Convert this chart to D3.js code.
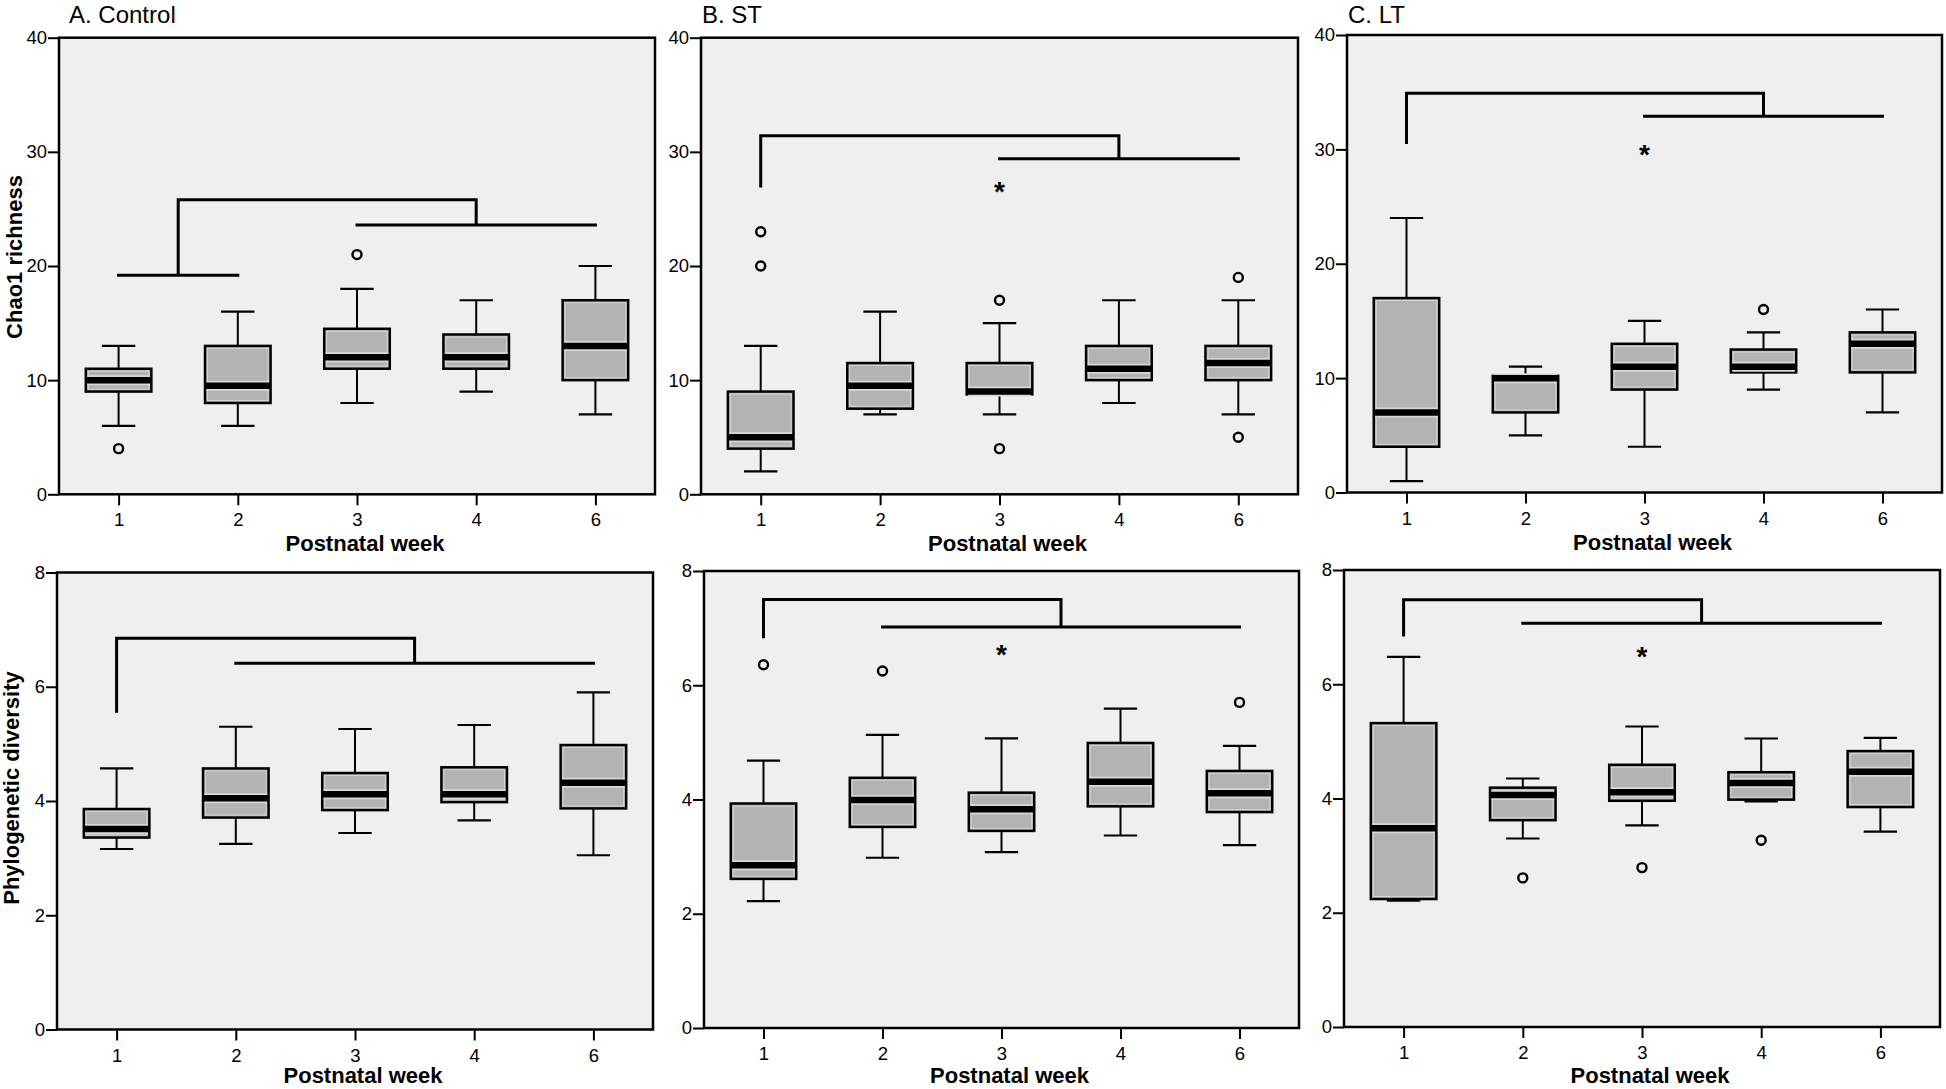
<!DOCTYPE html>
<html><head><meta charset="utf-8">
<script src="https://cdn.jsdelivr.net/npm/d3@7"></script>
<style>
body{margin:0;background:#fff}
svg{display:block}
text{font-family:"Liberation Sans", Arial, sans-serif;fill:#000}
</style>
</head><body>
<svg id="chart" width="1946" height="1089"></svg>
<script>
// ---------- data ----------
const weeks = ["1","2","3","4","6"];
const panelTitles = ["A. Control","B. ST","C. LT"];
const chaoTicks = [0,10,20,30,40];
const pdTicks = [0,2,4,6,8];
const chaoLabel = "Chao1 richness";
const pdLabel = "Phylogenetic diversity";
const xLabel = "Postnatal week";

// each box: [lower whisker, Q1, median, Q3, upper whisker]
const chaoControl = [[6,9,10,11,13],[6,8,9.5,13,16],[8,11,12,14.5,18],[9,11,12,14,17],[7,10,13,17,20]];
const chaoST      = [[2,4,5,9,13],[7,7.5,9.5,11.5,16],[7,8.75,9,11.5,15],[8,10,11,13,17],[7,10,11.5,13,17]];
const chaoLT      = [[1,4,7,17,24],[5,7,10,10.2,11],[4,9,11,13,15],[9,10.5,11,12.5,14],[7,10.5,13,14,16]];
const pdControl   = [[3.16,3.36,3.51,3.86,4.57],[3.25,3.71,4.05,4.57,5.30],[3.44,3.84,4.12,4.49,5.26],[3.66,3.98,4.12,4.59,5.33],[3.05,3.87,4.32,4.98,5.90]];
const pdST        = [[2.22,2.61,2.85,3.93,4.68],[2.98,3.52,3.99,4.38,5.13],[3.08,3.45,3.83,4.12,5.07],[3.37,3.88,4.31,4.99,5.59],[3.20,3.78,4.11,4.50,4.94]];
const pdLT        = [[2.21,2.24,3.48,5.32,6.48],[3.30,3.62,4.06,4.19,4.35],[3.53,3.96,4.11,4.59,5.26],[3.95,3.98,4.27,4.46,5.05],[3.42,3.85,4.47,4.83,5.06]];

// outliers (circle): [week index, value]
const chaoControlOutliers = [[0,4],[2,21]];
const chaoSTOutliers      = [[0,23],[0,20],[2,17],[2,4],[4,19],[4,5]];
const chaoLTOutliers      = [[3,16]];
const pdControlOutliers   = [];
const pdSTOutliers        = [[0,6.36],[1,6.25],[4,5.70]];
const pdLTOutliers        = [[1,2.61],[2,2.79],[3,3.27]];

// extremes (asterisk): [week index, value]
const chaoControlExtremes = [];
const chaoSTExtremes      = [[2,27]];
const chaoLTExtremes      = [[2,30]];
const pdControlExtremes   = [];
const pdSTExtremes        = [[2,6.64]];
const pdLTExtremes        = [[2,6.58]];

// significance brackets: left group (week index range) at leftY, right group at rightY, joined at topY
const chaoControlBracket = {left:[0,1], leftY:19.2, right:[2,4], rightY:23.6, topY:25.8};
const chaoSTBracket      = {left:[0,0], leftY:27.0, right:[2,4], rightY:29.4, topY:31.4};
const chaoLTBracket      = {left:[0,0], leftY:30.6, right:[2,4], rightY:32.9, topY:34.9};
const pdControlBracket   = {left:[0,0], leftY:5.57, right:[1,4], rightY:6.41, topY:6.85};
const pdSTBracket        = {left:[0,0], leftY:6.85, right:[1,4], rightY:7.02, topY:7.50};
const pdLTBracket        = {left:[0,0], leftY:6.86, right:[1,4], rightY:7.07, topY:7.48};

// ---------- layout ----------
const frames = [
  {x0:59, x1:655, y0:37.7, y1:494.3, titleX:69, xlabOff:57},
  {x0:701, x1:1298, y0:37.7, y1:494.3, titleX:702, xlabOff:57},
  {x0:1347, x1:1942, y0:35, y1:492.5, titleX:1348, xlabOff:57},
  {x0:57, x1:653, y0:572.5, y1:1029.5, xlabOff:53.5},
  {x0:704, x1:1299, y0:571, y1:1028, xlabOff:55},
  {x0:1344, x1:1940, y0:570, y1:1027, xlabOff:55.5}
];

const panels = [
  {boxes:chaoControl, out:chaoControlOutliers, ext:chaoControlExtremes, br:chaoControlBracket, ticks:chaoTicks, ylab:chaoLabel, ylabX:22, ylabY:257, title:panelTitles[0]},
  {boxes:chaoST, out:chaoSTOutliers, ext:chaoSTExtremes, br:chaoSTBracket, ticks:chaoTicks, title:panelTitles[1]},
  {boxes:chaoLT, out:chaoLTOutliers, ext:chaoLTExtremes, br:chaoLTBracket, ticks:chaoTicks, title:panelTitles[2]},
  {boxes:pdControl, out:pdControlOutliers, ext:pdControlExtremes, br:pdControlBracket, ticks:pdTicks, ylab:pdLabel, ylabX:19, ylabY:788},
  {boxes:pdST, out:pdSTOutliers, ext:pdSTExtremes, br:pdSTBracket, ticks:pdTicks},
  {boxes:pdLT, out:pdLTOutliers, ext:pdLTExtremes, br:pdLTBracket, ticks:pdTicks}
];

const svg = d3.select("#chart");

panels.forEach((p, i) => {
  const f = frames[i];
  const x = d3.scalePoint().domain(weeks).range([f.x0, f.x1]).padding(0.5);
  const y = d3.scaleLinear().domain(d3.extent(p.ticks)).range([f.y1, f.y0]);
  const step = x.step();
  const boxW = step * 0.55;
  const capW = step * 0.28;
  const g = svg.append("g");

  // background
  g.append("rect").attr("x", f.x0).attr("y", f.y0)
    .attr("width", f.x1 - f.x0).attr("height", f.y1 - f.y0)
    .attr("fill", "#efefef");

  // boxes
  p.boxes.forEach((b, k) => {
    const cx = x(weeks[k]);
    const [lo, q1, med, q3, hi] = b;
    const bg = g.append("g");
    bg.append("line").attr("x1", cx).attr("x2", cx).attr("y1", y(q3)).attr("y2", y(hi))
      .attr("stroke", "#000").attr("stroke-width", 2);
    bg.append("line").attr("x1", cx).attr("x2", cx).attr("y1", y(q1)).attr("y2", y(lo))
      .attr("stroke", "#000").attr("stroke-width", 2);
    [lo, hi].forEach(v => {
      bg.append("line").attr("x1", cx - capW/2).attr("x2", cx + capW/2).attr("y1", y(v)).attr("y2", y(v))
        .attr("stroke", "#000").attr("stroke-width", 2.2);
    });
    bg.append("rect").attr("x", cx - boxW/2).attr("y", y(q3))
      .attr("width", boxW).attr("height", Math.max(0.5, y(q1) - y(q3)))
      .attr("fill", "#b3b3b3").attr("stroke", "#000").attr("stroke-width", 2.5);
    if (y(q1) - y(q3) > 6) {
      bg.append("rect").attr("x", cx - boxW/2 + 2.5).attr("y", y(q3) + 2.5)
        .attr("width", boxW - 5).attr("height", y(q1) - y(q3) - 5)
        .attr("fill", "none").attr("stroke", "#d4d4d4").attr("stroke-width", 1);
    }
    bg.append("line").attr("x1", cx - boxW/2 + 1.5).attr("x2", cx + boxW/2 - 1.5)
      .attr("y1", y(med)).attr("y2", y(med))
      .attr("stroke", "#d8d8d8").attr("stroke-width", 10);
    bg.append("line").attr("x1", cx - boxW/2).attr("x2", cx + boxW/2)
      .attr("y1", y(med)).attr("y2", y(med))
      .attr("stroke", "#000").attr("stroke-width", 6.5);
  });

  // outliers
  g.selectAll(null).data(p.out).enter().append("circle")
    .attr("cx", d => x(weeks[d[0]])).attr("cy", d => y(d[1])).attr("r", 4.5)
    .attr("fill", "none").attr("stroke", "#000").attr("stroke-width", 2.4);

  // extremes
  g.selectAll(null).data(p.ext).enter().append("text")
    .attr("x", d => x(weeks[d[0]])).attr("y", d => y(d[1]) + 15)
    .attr("text-anchor", "middle").attr("font-size", 28).attr("font-weight", "bold")
    .text("*");

  // brackets
  const br = p.br;
  const lx0 = x(weeks[br.left[0]]), lx1 = x(weeks[br.left[1]]);
  const rx0 = x(weeks[br.right[0]]), rx1 = x(weeks[br.right[1]]);
  const lm = (lx0 + lx1) / 2, rm = (rx0 + rx1) / 2;
  const path = d3.path();
  if (br.left[0] !== br.left[1]) { path.moveTo(lx0, y(br.leftY)); path.lineTo(lx1, y(br.leftY)); }
  path.moveTo(lm, y(br.leftY)); path.lineTo(lm, y(br.topY)); path.lineTo(rm, y(br.topY)); path.lineTo(rm, y(br.rightY));
  path.moveTo(rx0, y(br.rightY)); path.lineTo(rx1, y(br.rightY));
  g.append("path").attr("d", path.toString()).attr("fill", "none")
    .attr("stroke", "#000").attr("stroke-width", 3).attr("stroke-linecap", "square");

  // frame
  g.append("rect").attr("x", f.x0).attr("y", f.y0)
    .attr("width", f.x1 - f.x0).attr("height", f.y1 - f.y0)
    .attr("fill", "none").attr("stroke", "#000").attr("stroke-width", 2.5);

  // axes
  const ya = g.append("g").attr("transform", `translate(${f.x0},0)`)
    .call(d3.axisLeft(y).tickValues(p.ticks).tickSize(11).tickPadding(1).tickFormat(d3.format("d")));
  const xa = g.append("g").attr("transform", `translate(0,${f.y1})`)
    .call(d3.axisBottom(x).tickSize(11).tickPadding(8));
  [ya, xa].forEach(a => {
    a.select(".domain").remove();
    a.selectAll(".tick line").attr("stroke", "#000").attr("stroke-width", 2);
    a.selectAll(".tick text").attr("font-size", 18.5).attr("fill", "#000")
      .attr("font-family", '"Liberation Sans", Arial, sans-serif');
  });

  // x label
  g.append("text").attr("x", (f.x0 + f.x1) / 2 + 8).attr("y", f.y1 + f.xlabOff)
    .attr("text-anchor", "middle").attr("font-size", 22).attr("font-weight", "bold")
    .text(xLabel);

  // y label
  if (p.ylab) {
    g.append("text").attr("transform", `translate(${p.ylabX},${p.ylabY}) rotate(-90)`)
      .attr("text-anchor", "middle").attr("font-size", 22).attr("font-weight", "bold")
      .text(p.ylab);
  }

  // panel title
  if (p.title) {
    g.append("text").attr("x", f.titleX).attr("y", 23)
      .attr("font-size", 24).text(p.title);
  }
});
</script>
</body></html>
